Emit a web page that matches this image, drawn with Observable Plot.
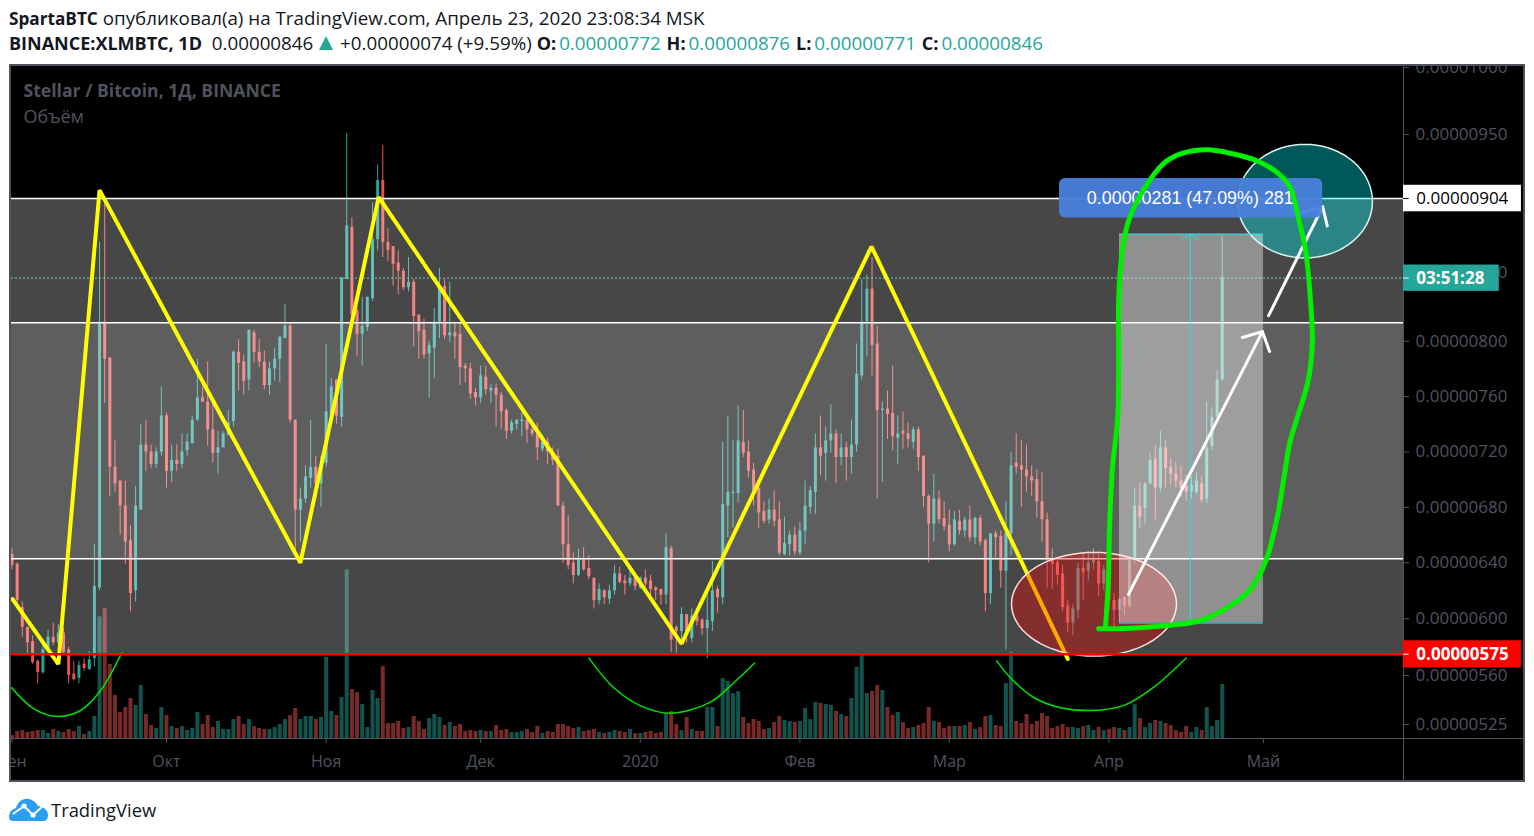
<!DOCTYPE html>
<html lang="ru"><head><meta charset="utf-8">
<script src="https://cdn.jsdelivr.net/npm/d3@7"></script>
<script src="https://cdn.jsdelivr.net/npm/@observablehq/plot@0.6"></script>
<style>
html,body{margin:0;padding:0;background:#fff;overflow:hidden}
body{width:1534px;height:836px;font-family:"Open Sans",sans-serif;color:#131722}
#head{height:64px;padding-left:9px;box-sizing:border-box;font-size:18.8px;line-height:25px;padding-top:6px;white-space:nowrap}
#head b{font-weight:700;font-size:17.2px}#head .g{color:#26a69a}#head .tri{color:#26a69a;display:inline-block;width:0;height:0;border-left:7.5px solid transparent;border-right:7.5px solid transparent;border-bottom:14px solid #26a69a;margin:0 2px 0 1px}
#head .s b{font-size:18px}
#head b.l{margin-right:3px}
#head b.v{margin-left:1px}
#chart{margin-left:9px;width:1516px;height:718px;border:2px solid #50535e;box-sizing:border-box;background:#000;overflow:hidden}
#chart svg{display:block}
#foot{position:absolute;left:9px;top:797px;height:24px;display:flex;align-items:center;font-size:18.4px}
#foot svg{margin-right:3px}
</style></head><body>
<div id="head"><div><b>SpartaBTC</b> опубликовал(а) на TradingView.com, Апрель 23, 2020 23:08:34 MSK</div>
<div class="s"><b>BINANCE:XLMBTC, 1D</b>&nbsp; 0.00000846 <span class="tri"></span> +0.00000074 (+9.59%) <b class="l">O:</b><span class="g">0.00000772</span> <b class="l v">H:</b><span class="g">0.00000876</span> <b class="l v">L:</b><span class="g">0.00000771</span> <b class="l v">C:</b><span class="g">0.00000846</span></div></div>
<div id="chart"></div>
<div id="foot"><svg width="39" height="24" viewBox="0 0 39 24"><path d="M0 20C0 15 3 12 7 11C9 4 15 1 20 2C24 3 27 5 29 9C34 9 39 13 39 18C39 22 37 24 34 24H4C2 24 0 23 0 20Z" fill="#2a9df4"/><path d="M4 17L15 9L24 18L35 8" fill="none" stroke="#fff" stroke-width="2"/><circle cx="15" cy="9" r="2.6" fill="#fff"/><circle cx="24" cy="18" r="2.6" fill="#fff"/></svg><span>TradingView</span></div>
<script>
// Prices are in units of 1e-8 BTC; one candle per day from 1 Sep 2019 (day 0).
const opens=[646,639,608,594,584,570,562,578,587,583,
590,578,561,558,568,564,572,622,814,788,
709,699,681,656,620,678,725,720,711,720,
746,706,714,711,721,726,743,759,756,736,
719,723,732,742,792,785,772,806,792,785,
768,780,787,802,811,743,678,686,701,709,
697,712,746,772,745,845,883,822,805,810,
831,874,917,872,869,857,851,839,843,819,
808,791,795,814,840,804,806,805,782,780,
763,759,774,764,766,761,750,735,740,742,
743,736,733,722,727,720,717,681,653,640,
631,642,636,629,613,620,614,620,632,627,
625,629,622,629,627,622,621,617,650,594,
591,603,586,602,599,593,598,621,615,681,
690,690,727,720,707,694,677,671,678,671,
646,653,660,647,663,680,691,723,719,728,
733,716,723,716,725,775,814,838,798,750,
751,748,730,735,733,727,736,717,688,668,
686,672,667,653,670,663,671,658,672,656,
618,661,659,634,661,712,710,707,702,700,
684,671,643,640,632,609,597,606,636,634,
640,641,625,625,613,606,615,609,642,681,
679,697,715,694,723,709,704,699,695,691,
691,697,686,724,745,772];
const closes=[638,613,594,583,569,562,578,587,583,590,
576,560,557,567,565,571,623,814,787,709,
697,681,655,618,681,725,720,711,720,746,
706,714,711,720,727,743,759,756,736,719,
723,733,741,792,784,771,808,792,785,768,
780,787,803,811,743,678,686,702,709,697,
710,749,767,746,846,884,819,805,811,832,
874,917,872,866,856,851,839,843,818,807,
790,797,814,839,804,806,803,781,780,762,
759,775,765,766,761,749,735,741,743,743,
736,733,723,727,720,714,681,653,638,631,
642,635,630,613,621,615,620,632,626,625,
629,623,629,625,621,620,617,651,585,591,
603,588,602,598,593,599,620,615,682,691,
691,728,719,706,692,676,670,678,670,647,
654,660,648,663,681,692,723,717,728,733,
716,723,716,725,776,814,838,797,750,751,
747,731,733,733,729,736,716,688,668,686,
671,666,653,671,663,671,658,672,655,618,
661,658,634,661,710,709,707,702,699,684,
671,642,639,631,608,597,607,636,633,640,
642,625,635,613,606,614,609,642,681,673,
697,714,694,723,708,704,699,694,691,696,
699,685,723,745,772,846];
const highs=[650,640,612,594,588,571,582,592,597,596,
593,580,570,570,572,577,653,872,900,788,
728,699,699,667,695,740,743,725,723,767,
748,725,725,733,733,746,787,767,785,756,
735,735,750,793,801,790,808,808,801,793,
785,795,803,827,813,743,694,710,743,717,
717,798,773,772,846,951,890,824,832,832,
901,928,942,882,869,866,853,861,845,819,
816,800,824,853,845,843,813,813,784,784,
766,782,782,769,769,763,751,743,743,748,
745,743,741,732,730,723,722,684,674,647,
650,651,645,629,625,621,624,638,637,631,
637,630,630,635,631,623,621,661,652,595,
608,603,607,603,600,620,641,623,727,746,
728,753,750,728,712,694,684,686,692,684,
673,663,666,669,699,695,733,746,738,754,
736,733,727,743,798,845,848,861,811,756,
764,782,746,749,741,738,738,717,689,704,
692,684,678,677,678,673,681,673,674,657,
661,663,663,684,720,733,728,725,710,707,
705,676,650,642,638,613,610,640,647,648,
650,646,638,626,618,614,616,642,694,698,
698,719,725,735,728,715,712,710,703,702,
705,702,756,752,779,876];
const lows=[635,611,587,575,568,554,561,578,581,582,
575,554,556,554,563,564,566,620,755,688,
691,660,639,605,612,678,706,708,708,717,
694,698,706,708,717,726,742,756,724,712,
704,723,732,738,764,761,764,784,781,765,
761,771,770,802,741,649,655,683,694,686,
680,709,743,740,738,845,815,789,782,807,
829,866,861,858,840,834,837,836,796,787,
787,759,773,802,801,799,787,768,770,758,
753,755,761,755,738,736,729,733,736,731,
726,731,714,720,711,710,681,640,635,625,
630,634,628,607,610,610,610,617,625,617,
623,620,621,623,615,613,610,610,576,575,
585,583,583,595,588,572,591,604,610,658,
665,683,716,701,681,665,668,668,666,645,
645,645,645,645,653,675,675,703,699,719,
697,710,699,704,720,772,789,775,686,698,
729,721,711,722,723,722,706,680,640,655,
668,663,648,652,660,658,655,653,652,605,
610,642,622,578,645,704,680,691,688,672,
655,622,621,624,605,590,588,600,613,627,
635,616,620,606,594,597,602,608,639,665,
668,696,671,691,694,696,694,687,685,686,
689,683,683,721,745,771];
const volumes=[3,7,8,6,7,8,8,5,9,7,
6,9,7,12,4,7,22,121,129,74,
43,26,31,40,33,53,24,13,10,31,
23,12,10,12,8,10,26,14,23,11,
17,9,9,19,22,14,19,12,10,9,
9,11,14,19,23,30,19,22,22,19,
21,81,27,23,41,168,49,46,34,11,
48,40,72,15,15,17,10,11,22,17,
9,20,24,21,13,16,12,14,7,8,
7,8,7,7,13,8,9,6,6,7,
9,6,12,5,7,6,14,14,12,10,
11,7,8,9,6,5,6,8,7,6,
9,5,5,6,7,5,6,25,27,14,
8,21,9,7,7,31,31,12,60,57,
45,47,21,15,19,17,9,10,16,22,
18,17,16,17,30,19,36,35,34,33,
27,24,22,40,71,84,45,47,53,48,
31,23,26,16,10,11,13,15,31,17,
16,10,12,12,12,13,16,9,11,22,
23,13,12,55,86,17,15,24,14,17,
25,22,10,12,14,11,11,10,12,13,
8,11,8,9,11,10,8,11,34,20,
11,15,18,17,15,13,8,6,12,6,
11,8,31,12,18,54];
const xTicks=[0,30,61,91,122,153,182,213,243];
const xLabels=["Сен","Окт","Ноя","Дек","2020","Фев","Мар","Апр","Май"];
const yTicks=[525,560,600,640,680,720,760,800,850,900,950,1000];
const levels={top:904,upper:813.5,lower:643,bottom:575,last:846};
const zigzag=[[0.1,614],[9,568],[17,910],[56,640],[71.2,905],[130,582.4],[166.9,869],[205,571.7]];
const arcLeft=[[-0.1,551.4],[4.2,536.4],[8.8,530.7],[13.3,535],[17.2,549.3],[21.3,576]];
const arcMid=[[112,572.4],[116.8,551.4],[122,538.5],[127.9,533],[135.6,541],[140,554.3],[144.2,568.8]];
const arcRight=[[191.2,570.3],[194,557.9],[198.4,544.3],[203.6,537],[209.8,535],[215.8,538.5],[221.6,551.4],[228,572.4]];
const handDrawn=[[211,593],[214.3,593],[224.4,595.3],[230.8,598.8],[236,608],[239.9,618.8],[242,629.5],[243.8,645],[245.7,673],[246.9,699.4],[248.2,728],[249.6,745],[251.7,771.6],[252.5,800],[252.1,831.7],[251.2,865.8],[249.8,889.7],[248.2,912],[245.7,922.6],[241.8,931],[237.2,936],[232.1,939],[226.9,936],[223.6,929],[219.7,910],[216.8,887.5],[215.6,865.8],[214.9,831.7],[214.9,788],[214.7,745],[213.7,709],[213.1,663.3],[212.9,627.4],[212.3,593]];
const arrowA=[[216.8,617.4],[242.8,807]];
const arrowAHead=[[238.9,802.7],[242.8,807],[244.2,792.6]];
const arrowB=[[244,818.6],[254.5,898]];
const arrowBHead=[[249.8,893],[254.5,898],[255.4,884]];
const range={x1:215.05,x2:243,y1:597,y2:878,mid:228.8};
const rangeHead=[[227.3,874],[228.8,878],[230.4,874]];
const rangeBox={x1:203.4,x2:254.5,y1:889.7,y2:918.4};
const ellipseRed={cx:210.1,cy:610.6,rx:16.02,ry:36.9};
const ellipseTeal={cx:251.07,cy:901.8,rx:13.1,ry:41.1};

const volBase=515, volUnit=0.714, xMax=270.2, xEnd=293.5, labelEnd=293.1, clockEnd=288.8, labelX=272.7;
const UP="#26a69a", DOWN="#ef5350", AXIS="#50535e";
const candles=opens.map((o,i)=>({i,o,c:closes[i],h:highs[i],l:lows[i],v:volumes[i],top:Math.max(o,closes[i]),bot:Math.min(o,closes[i]),up:closes[i]>=o}));
const ups=candles.filter(d=>d.up), downs=candles.filter(d=>!d.up);
const ellipsePts=e=>d3.range(0,73).map(k=>[e.cx+e.rx*Math.cos(k*Math.PI/36),e.cy+e.ry*Math.sin(k*Math.PI/36)]);
const price=v=>(v/1e8).toFixed(8);
const hBand=(y1,y2,op)=>Plot.rect([{y1,y2}],{x1:()=>-0.1,x2:()=>xMax,y1:"y1",y2:"y2",fill:"#fff",fillOpacity:op});
const hLine=(y,stroke,w)=>Plot.ruleY([y],{x1:()=>-0.1,x2:()=>xMax,stroke,strokeWidth:w});
const tag=(y,end,fill,label,color,weight)=>[
  Plot.rect([{y1:y-9.7,y2:y+9.5}],{x1:()=>xMax,x2:()=>end,y1:"y1",y2:"y2",fill}),
  Plot.ruleY([y],{x1:()=>xMax,x2:()=>xMax+1.1,stroke:color==="#000"?"#000":"#fff"}),
  Plot.text([label],{x:()=>labelX,y:()=>y,text:d=>d,fill:color,fontSize:17,fontWeight:weight,textAnchor:"start"})
];

const chart=Plot.plot({
  width:1512,height:714,marginLeft:0,marginRight:120,marginTop:0,marginBottom:42,
  style:{background:"#000",fontFamily:"'Open Sans',sans-serif"},
  x:{type:"linear",domain:[-0.097,xMax],range:[0,1392]},
  y:{type:"linear",domain:[484,515,525,560,600,640,800,904,950,1000,1001.5],range:[714,672,658,609,552.3,496.3,274.7,132,68,1,0]},
  marks:[
    Plot.axisX({anchor:"bottom",ticks:xTicks,tickFormat:d=>xLabels[xTicks.indexOf(d)],tickSize:5,tickPadding:12,fontSize:16,stroke:AXIS,fill:AXIS,label:null}),
    Plot.axisY({anchor:"right",ticks:yTicks,tickFormat:price,tickSize:5,tickPadding:7,fontSize:17,stroke:AXIS,fill:AXIS,label:null}),
    // volume
    Plot.ruleX(ups,{x:"i",y1:()=>volBase,y2:d=>volBase+d.v*volUnit,stroke:UP,strokeOpacity:.5,strokeWidth:4}),
    Plot.ruleX(downs,{x:"i",y1:()=>volBase,y2:d=>volBase+d.v*volUnit,stroke:DOWN,strokeOpacity:.5,strokeWidth:4}),
    // candles
    Plot.ruleX(ups,{x:"i",y1:"l",y2:"h",stroke:UP,strokeWidth:1}),
    Plot.ruleX(downs,{x:"i",y1:"l",y2:"h",stroke:DOWN,strokeWidth:1}),
    Plot.ruleX(ups,{x:"i",y1:"bot",y2:"top",stroke:UP,strokeWidth:3}),
    Plot.ruleX(downs,{x:"i",y1:"bot",y2:"top",stroke:DOWN,strokeWidth:3}),
    // bands
    hBand(levels.bottom,levels.top,.278),
    hBand(levels.lower,levels.upper,.127),
    Plot.ruleY([levels.last],{x1:()=>-0.1,x2:()=>xMax,stroke:"#6fd0c6",strokeWidth:1,strokeDasharray:"2,2"}),
    hLine(levels.top,"#fff",1.5),hLine(levels.upper,"#fff",1.5),hLine(levels.lower,"#fff",1.5),
    Plot.line(zigzag,{stroke:"#ffff00",strokeWidth:4,strokeLinejoin:"miter"}),
    Plot.line(ellipsePts(ellipseRed),{fill:"#ff0000",fillOpacity:.34,stroke:"#ffdcdc",strokeWidth:1.5}),
    Plot.line(ellipsePts(ellipseTeal),{fill:"#00f0f0",fillOpacity:.37,stroke:"#d8f5f2",strokeWidth:1.5}),
    Plot.line(arcLeft,{curve:"catmull-rom",stroke:"#00e000",strokeWidth:1.5}),
    Plot.line(arcMid,{curve:"catmull-rom",stroke:"#00e000",strokeWidth:1.5}),
    Plot.line(arcRight,{curve:"catmull-rom",stroke:"#00e000",strokeWidth:1.5}),
    hLine(levels.bottom,"#ff0000",2.5),
    // price range tool
    Plot.rect([range],{x1:"x1",x2:"x2",y1:"y1",y2:"y2",fill:"#fff",fillOpacity:.4}),
    Plot.ruleY([range.y1,range.y2],{x1:()=>range.x1,x2:()=>range.x2,stroke:"#1fe3ea",strokeWidth:1}),
    Plot.ruleX([range.mid],{y1:()=>range.y1,y2:()=>range.y2,stroke:"#1fe3ea",strokeWidth:1}),
    Plot.line(rangeHead,{stroke:"#1fe3ea",strokeWidth:1}),
    // arrows
    Plot.line(arrowA,{stroke:"#fff",strokeWidth:3}),Plot.line(arrowAHead,{stroke:"#fff",strokeWidth:3}),
    Plot.line(arrowB,{stroke:"#fff",strokeWidth:3}),Plot.line(arrowBHead,{stroke:"#fff",strokeWidth:3}),
    Plot.rect([rangeBox],{x1:"x1",x2:"x2",y1:"y1",y2:"y2",fill:"#4a80dc",fillOpacity:.95,rx:6}),
    Plot.text(["0.00000281 (47.09%) 281"],{x:()=>range.mid,y:()=>904,text:d=>d,fill:"#fff",fontSize:17.9,fontFamily:"'Liberation Sans',Arial,sans-serif"}),
    Plot.line(handDrawn,{curve:"catmull-rom",stroke:"#00f000",strokeWidth:5}),
    // axis frames
    Plot.ruleX([xMax],{y1:()=>484,y2:()=>1001.5,stroke:AXIS}),
    Plot.ruleY([volBase],{x1:()=>-0.1,x2:()=>xEnd,stroke:AXIS}),
    // price labels
    ...tag(904,labelEnd,"#fff",price(904),"#000","400"),
    ...tag(846,clockEnd,UP,"03:51:28","#fff","700"),
    ...tag(575,labelEnd,"#ff0000",price(575),"#fff","700"),
    // legend
    Plot.text(["Stellar / Bitcoin, 1Д, BINANCE"],{frameAnchor:"top-left",dx:12,dy:25,lineAnchor:"middle",textAnchor:"start",text:d=>d,fill:AXIS,fontSize:17.6,fontWeight:700}),
    Plot.text(["Объём"],{frameAnchor:"top-left",dx:12,dy:51,lineAnchor:"middle",textAnchor:"start",text:d=>d,fill:AXIS,fontSize:18})
  ]
});
document.getElementById("chart").append(chart);
</script>
</body></html>
